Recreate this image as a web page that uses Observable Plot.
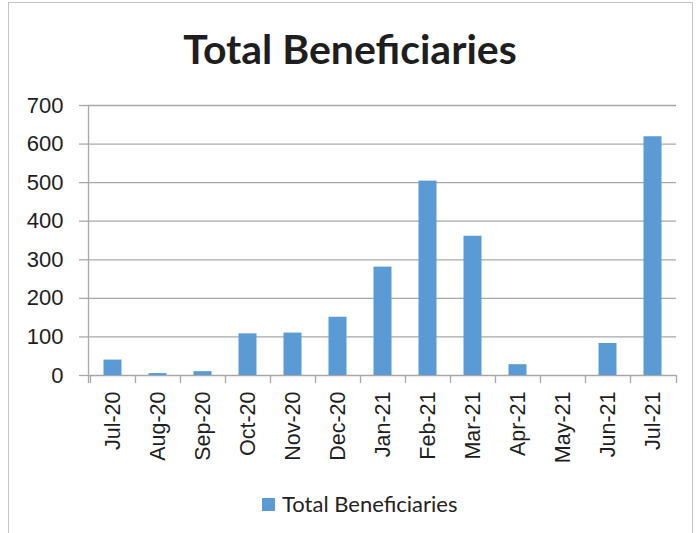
<!DOCTYPE html>
<html>
<head>
<meta charset="utf-8">
<script src="https://cdn.jsdelivr.net/npm/d3@7"></script>
<script src="https://cdn.jsdelivr.net/npm/@observablehq/plot@0.6"></script>
<style>
  html, body { margin: 0; padding: 0; background: #fff; }
  #wrap { position: relative; width: 696px; height: 533px; overflow: hidden; background: #fff; }
  #frame { position: absolute; left: 8px; top: 2px; width: 685px; height: 560px; border: 1.5px solid #c4c4c4; box-sizing: border-box; }
  #title { position: absolute; left: 0; width: 700px; top: 28px; text-align: center; font-family: Lato, "Open Sans", sans-serif; font-weight: bold; font-size: 41px; color: #1e1e1e; line-height: 1; }
  #chart { position: absolute; left: 0; top: 90px; }
  #legend { position: absolute; left: 262px; top: 490px; display: flex; align-items: center; font-family: Lato, "Open Sans", sans-serif; font-size: 22px; color: #222; height: 26px; }
  #legend .sw { width: 13px; height: 13px; background: #5B9BD5; margin-right: 7px; margin-top: 2px; }
</style>
</head>
<body>
<div id="wrap">
  <div id="frame"></div>
  <div id="title">Total Beneficiaries</div>
  <div id="chart"></div>
  <div id="legend"><span class="sw"></span><span>Total Beneficiaries</span></div>
</div>
<script>
const months = ["Jul-20","Aug-20","Sep-20","Oct-20","Nov-20","Dec-20","Jan-21","Feb-21","Mar-21","Apr-21","May-21","Jun-21","Jul-21"];
const values = [40, 5, 10, 108, 110, 151, 281, 504, 361, 28, 0, 83, 619];
const yTicks = [0, 100, 200, 300, 400, 500, 600, 700];

const data = months.map((m, i) => ({month: m, value: values[i]}));
const gray = "#a8a8a8";

const chart = Plot.plot({
  width: 696,
  height: 380,
  marginTop: 15,
  marginBottom: 95,
  marginLeft: 88,
  marginRight: 20,
  style: {fontFamily: "'Liberation Sans', Arial, sans-serif", color: "#1e1e1e", background: "transparent"},
  x: {domain: months, padding: 0, label: null},
  y: {domain: [0, 700], label: null},
  marks: [
    Plot.gridY(yTicks, {stroke: gray, strokeOpacity: 1, strokeWidth: 1.3}),
    Plot.barY(data, {x: "month", y: "value", fill: "#5B9BD5", insetLeft: 13.5, insetRight: 13.5}),
    Plot.axisY(yTicks, {tickSize: 9, tickPadding: 16, fontSize: 22, stroke: gray, strokeWidth: 1.3, tickFormat: d => String(d)}),
    Plot.axisX({tickSize: 0, tickPadding: 16, tickRotate: -90, fontSize: 21.5})
  ]
});
document.getElementById("chart").appendChild(chart);

// axis line and category boundary ticks, positioned with the plot's own scales
const xs = chart.scale("x"), ys = chart.scale("y");
const svg = d3.select(chart);
const y0 = ys.apply(0), yTop = ys.apply(700);
const bounds = months.map(m => xs.apply(m)).concat([xs.range[1]]);
const g = svg.append("g").attr("stroke", gray).attr("stroke-width", 1.3);
g.selectAll("line.b").data(bounds).join("line")
  .attr("x1", d => Math.round(d) + 0.5).attr("x2", d => Math.round(d) + 0.5)
  .attr("y1", y0).attr("y2", y0 + 8);
g.append("line")
  .attr("x1", Math.round(xs.range[0]) + 0.5).attr("x2", Math.round(xs.range[0]) + 0.5)
  .attr("y1", yTop).attr("y2", y0 + 8);
</script>
</body>
</html>
